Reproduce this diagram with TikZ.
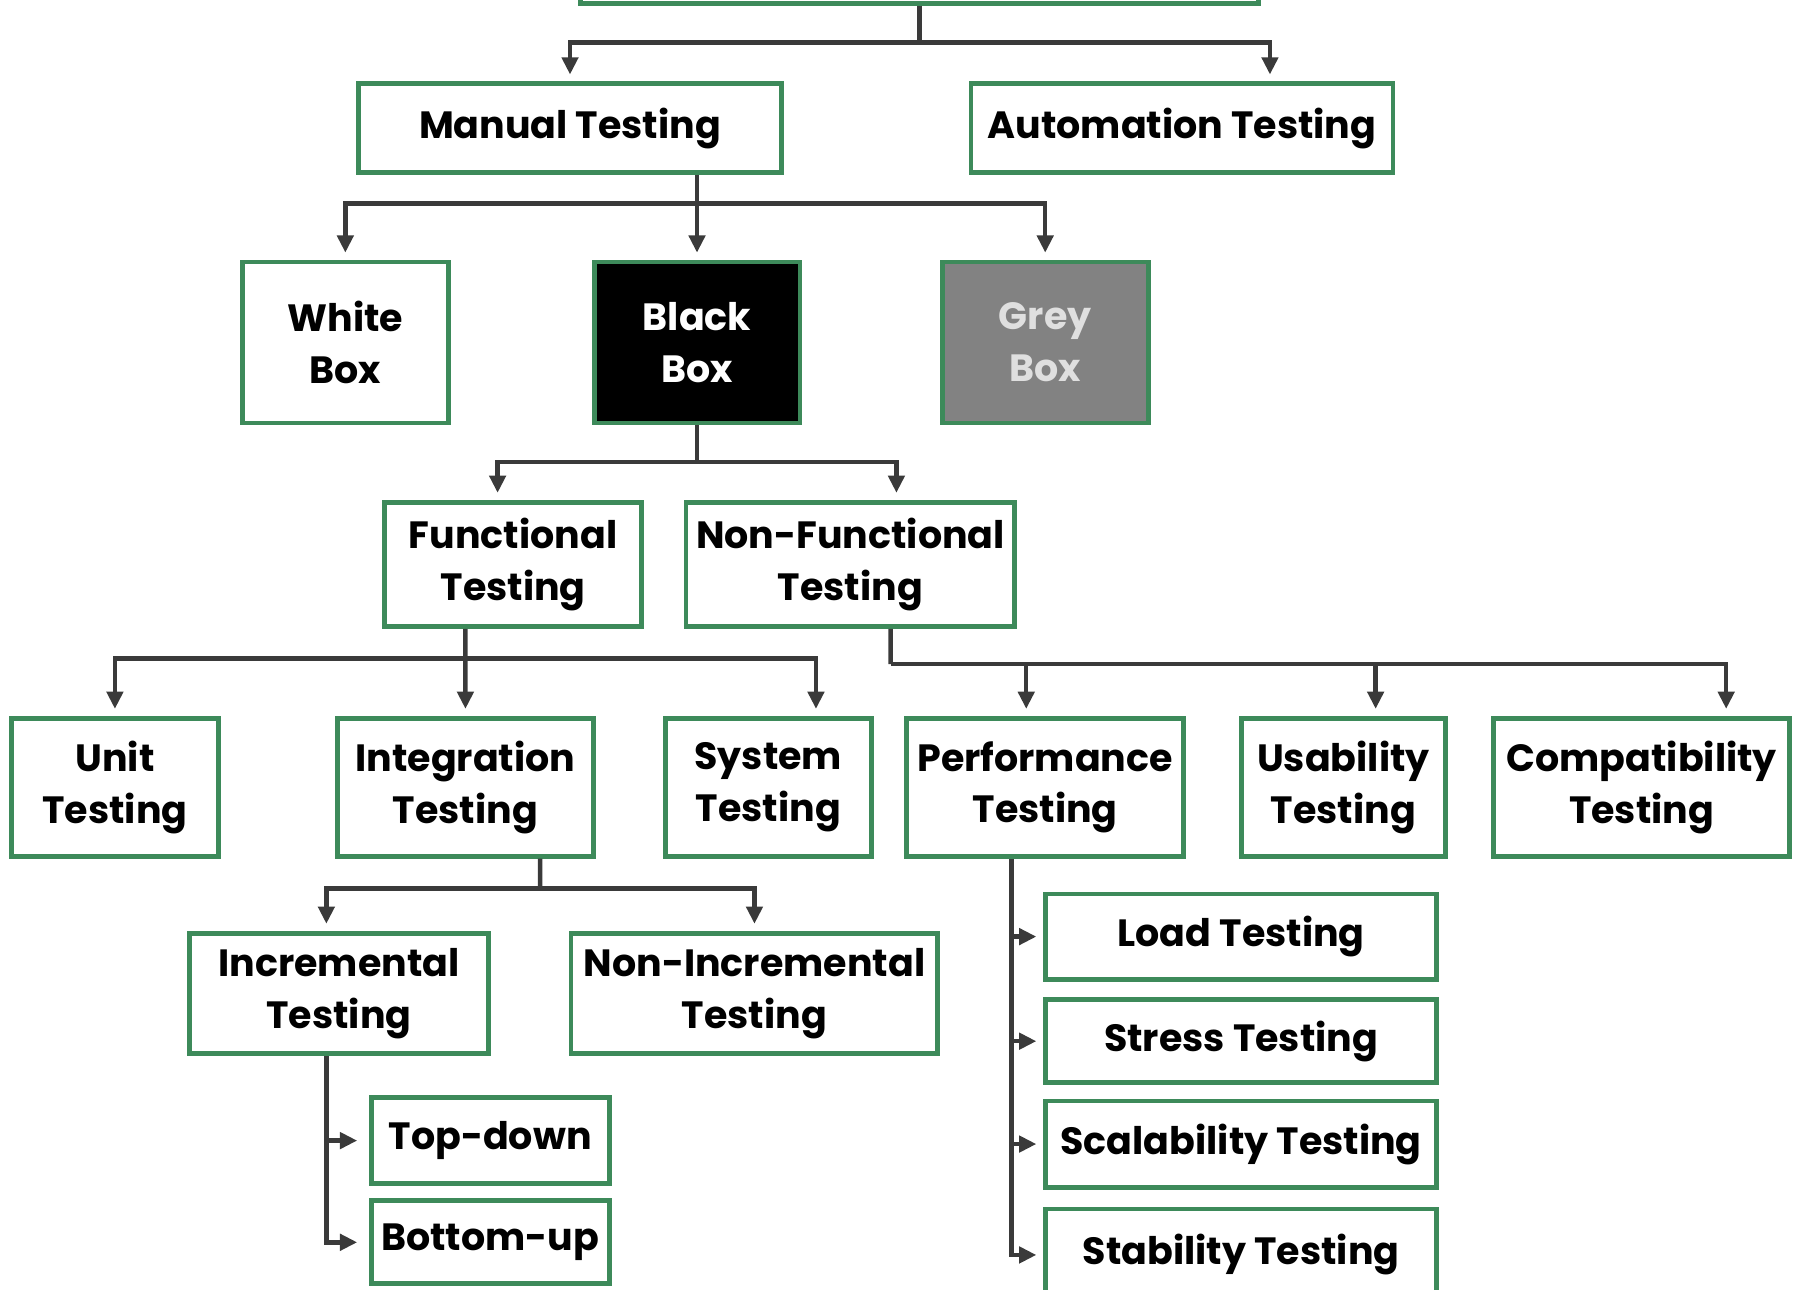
\documentclass[tikz,border=0pt]{standalone}
\usepackage{fontspec}
\setmainfont{Poppins}
\usepackage{tikz}
\usetikzlibrary{arrows.meta}
\definecolor{gfgreen}{HTML}{3D8A5A}
\definecolor{linkgray}{HTML}{3A3A3A}
\definecolor{boxgray}{HTML}{828282}
\tikzset{
	tbox/.style = {draw = gfgreen, line width = 1.2pt, fill = white, align = center, inner sep = 0pt},
	link/.style = {draw = linkgray, line width = 1.1pt},
	arr/.style = {link, -{Triangle[length = 0.15cm, width = 0.14cm]}, shorten >= 0.06cm}
}

\begin{document}
\begin{tikzpicture}[x = 0.01cm, y = -0.01cm, font = \fontsize{9.4}{12.8}\selectfont\bfseries]
				\useasboundingbox (0, 0) rectangle (1568, 1122);
				\clip (0, 0) rectangle (1568, 1122);
				% 0
				\node[tbox, minimum width = 5.9cm, minimum height = 0.66cm] (root) at (800, -30) {};
				% 1
				\node[tbox, minimum width = 3.68cm, minimum height = 0.77cm] (manual) at (496, 111.5) {Manual Testing};
				\node[tbox, minimum width = 3.67cm, minimum height = 0.77cm] (auto) at (1028.5, 111.5) {Automation Testing};
				% 2
				\node[tbox, minimum width = 1.79cm, minimum height = 1.4cm] (white) at (300.5, 298) {White\\Box};
				\node[tbox, fill = black, text = white, minimum width = 1.79cm, minimum height = 1.4cm] (black) at (606.5, 298) {Black\\Box};
				\node[tbox, fill = boxgray, text = gray!25, minimum width = 1.79cm, minimum height = 1.4cm] (grey) at (909.5, 298) {Grey\\Box};
				% 3
				\node[tbox, minimum width = 2.23cm, minimum height = 1.08cm] (func) at (446.5, 491) {Functional\\Testing};
				\node[tbox, minimum width = 2.86cm, minimum height = 1.08cm] (nonfunc) at (740, 491) {Non-Functional\\Testing};
				% 4
				\node[tbox, minimum width = 1.8cm, minimum height = 1.2cm] (unit) at (100, 685) {Unit\\Testing};
				\node[tbox, minimum width = 2.22cm, minimum height = 1.2cm] (integ) at (405, 685) {Integration\\Testing};
				\node[tbox, minimum width = 1.79cm, minimum height = 1.2cm] (system) at (668.5, 685) {System\\Testing};
				\node[tbox, minimum width = 2.41cm, minimum height = 1.2cm] (perf) at (909.5, 685) {Performance\\Testing};
				\node[tbox, minimum width = 1.78cm, minimum height = 1.2cm] (usab) at (1169, 685) {Usability\\Testing};
				\node[tbox, minimum width = 2.57cm, minimum height = 1.2cm] (compat) at (1428.5, 685) {Compatibility\\Testing};
				% 5
				\node[tbox, minimum width = 2.6cm, minimum height = 1.05cm] (incr) at (295, 864.5) {Incremental\\Testing};
				\node[tbox, minimum width = 3.19cm, minimum height = 1.05cm] (nonincr) at (656.5, 864.5) {Non-Incremental\\Testing};
				\node[tbox, minimum width = 2.07cm, minimum height = 0.75cm] (topdown) at (426.5, 992.5) {Top-down};
				\node[tbox, minimum width = 2.07cm, minimum height = 0.72cm] (bottomup) at (426.5, 1081) {Bottom-up};
				\node[tbox, minimum width = 3.4cm, minimum height = 0.74cm] (load) at (1080, 815) {Load Testing};
				\node[tbox, minimum width = 3.4cm, minimum height = 0.72cm] (stress) at (1080, 906) {Stress Testing};
				\node[tbox, minimum width = 3.4cm, minimum height = 0.75cm] (scal) at (1080, 995.5) {Scalability Testing};
				\node[tbox, minimum width = 3.4cm, minimum height = 0.8cm] (stab) at (1080, 1092) {Stability Testing};
				% links
				\coordinate (b1) at (800, 37);
				\draw[link] (root.south) -- (b1);
				\draw[arr] (b1) -| (manual.north);
				\draw[arr] (b1) -| ([xshift = 0.765cm]auto.north);
				\coordinate (b2) at (606.5, 177);
				\draw[arr] (manual.south -| black) -- (black.north);
				\draw[arr] (b2) -| (white.north);
				\draw[arr] (b2) -| (grey.north);
				\coordinate (b3) at (606.5, 402);
				\draw[link] (black.south) -- (b3);
				\draw[arr] (b3) -| ([xshift = -0.135cm]func.north);
				\draw[arr] (b3) -| ([xshift = 0.4cm]nonfunc.north);
				\coordinate (b4) at (405, 573);
				\draw[arr] ([xshift = -0.415cm]func.south) -- (integ.north);
				\draw[arr] (b4) -| (unit.north);
				\draw[arr] (b4) -| ([xshift = 0.415cm]system.north);
				\coordinate (b5) at (775, 578);
				\draw[link] ([xshift = 0.35cm]nonfunc.south) -- (b5);
				\draw[arr] (b5) -| ([xshift = -0.165cm]perf.north);
				\draw[arr] (b5) -| ([xshift = 0.28cm]usab.north);
				\draw[arr] (b5) -| ([xshift = 0.735cm]compat.north);
				\coordinate (b6) at (470, 773);
				\draw[link] ([xshift = 0.65cm]integ.south) -- (b6);
				\draw[arr] (b6) -| ([xshift = -0.11cm]incr.north);
				\draw[arr] (b6) -| (nonincr.north);
				% side buses
				\coordinate (ibus) at ([xshift = -0.11cm]incr.south);
				\draw[arr, shorten >= 0.1cm] (ibus) |- (bottomup.west);
				\draw[arr, shorten >= 0.1cm] (ibus |- topdown.west) -- (topdown.west);
				\coordinate (pbus) at ([xshift = -0.295cm]perf.south);
				\draw[arr] (pbus) |- (stab.west);
				\foreach \n in {load, stress, scal} {
					\draw[arr] (pbus |- \n.west) -- (\n.west);
				}
			\end{tikzpicture}
\end{document}
